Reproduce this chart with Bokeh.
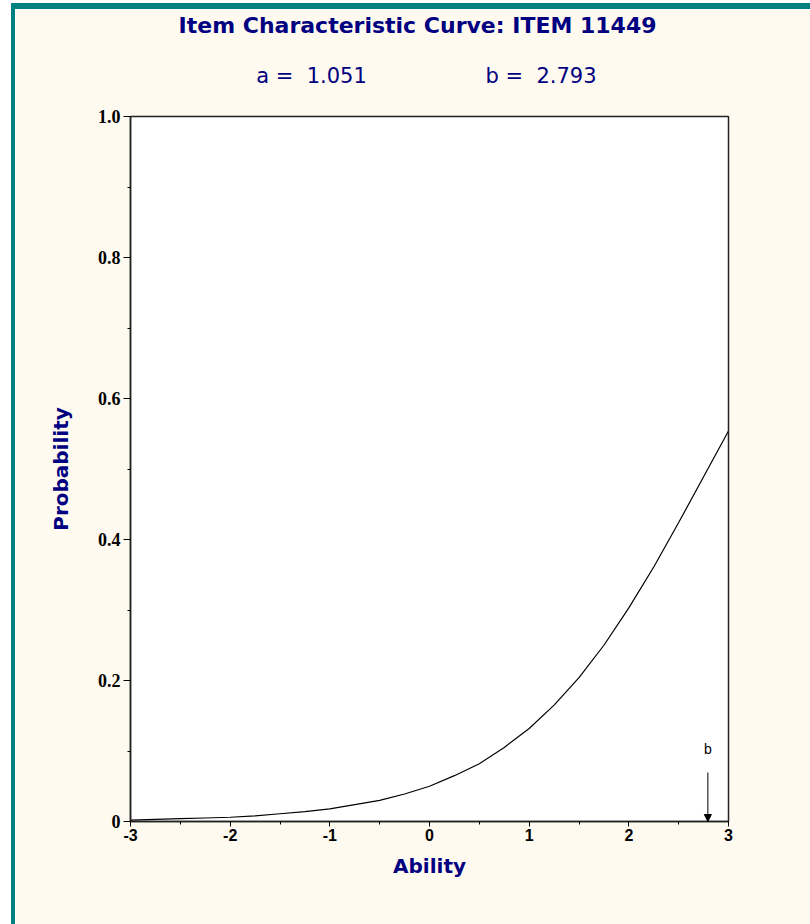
from bokeh.plotting import figure
from bokeh.models import Div, Label, Arrow, NormalHead, FixedTicker, Range1d, LinearAxis
from bokeh.layouts import column, row
from bokeh.embed import file_html
from bokeh.resources import INLINE

# ---- data ----
item_id = "11449"
a_param = 1.051
b_param = 2.793

ability = [-3.0, -2.75, -2.5, -2.25, -2.0, -1.75, -1.5, -1.25, -1.0, -0.75, -0.5, -0.25,
           0.0, 0.25, 0.5, 0.75, 1.0, 1.25, 1.5, 1.75, 2.0, 2.25, 2.5, 2.75, 3.0]
probability = [0.002, 0.003, 0.004, 0.005, 0.006, 0.008, 0.011, 0.014, 0.018, 0.024, 0.030, 0.039,
               0.050, 0.065, 0.082, 0.105, 0.132, 0.165, 0.204, 0.250, 0.303, 0.361, 0.424, 0.489, 0.554]

x_ticks = [-3, -2, -1, 0, 1, 2, 3]
x_tick_labels = {-3: "-3", -2: "-2", -1: "-1", 0: "0", 1: "1", 2: "2", 3: "3"}
x_minor = [-2.5, -1.5, -0.5, 0.5, 1.5, 2.5]
y_ticks = [0, 0.2, 0.4, 0.6, 0.8, 1.0]
y_minor = [0.1, 0.3, 0.5, 0.7, 0.9]
y_tick_labels = {0: "0", 0.2: "0.2", 0.4: "0.4", 0.6: "0.6", 0.8: "0.8", 1.0: "1.0"}

title_text = f"Item Characteristic Curve: ITEM {item_id}"
title_pos = [-0.12]
param_pos = [-1.184, 1.119]
param_text = [f"a = \u00a0{a_param:.3f}", f"b = \u00a0{b_param:.3f}"]

NAVY = "#000080"
CREAM = "#fffaf0"
TEAL = "#008080"

p = figure(width=795, height=915, x_range=Range1d(-3, 3), y_range=Range1d(0, 1),
           output_backend="svg", toolbar_location=None, title=None,
           min_border_left=115, min_border_right=82, min_border_top=107, min_border_bottom=103)
p.border_fill_color = CREAM
p.background_fill_color = "white"
p.outline_line_color = "#222222"
p.outline_line_width = 1.5
p.grid.visible = False

p.line(ability, probability, line_color="black", line_width=1.2)

# axes
xa = p.xaxis[0]
xa.ticker = FixedTicker(ticks=x_ticks, minor_ticks=x_minor)
xa.major_label_overrides = x_tick_labels
xa.axis_label = "Ability"
xa.axis_label_text_font = "DejaVu Sans"
xa.axis_label_text_font_style = "bold"
xa.axis_label_text_font_size = "20px"
xa.axis_label_text_color = NAVY
xa.axis_label_standoff = 10
xa.major_label_text_font = "Liberation Sans"
xa.major_label_text_font_style = "bold"
xa.major_label_text_font_size = "16px"
xa.major_label_text_color = "black"
xa.major_label_standoff = 2
xa.major_tick_in = 0
xa.major_tick_out = 5
xa.minor_tick_in = 0
xa.minor_tick_out = 3
xa.axis_line_color = "#222222"
xa.axis_line_width = 1.5

ya = p.yaxis[0]
ya.ticker = FixedTicker(ticks=y_ticks, minor_ticks=y_minor)
ya.major_label_overrides = y_tick_labels
ya.axis_label = "Probability"
ya.axis_label_text_font = "DejaVu Sans"
ya.axis_label_text_font_style = "bold"
ya.axis_label_text_font_size = "20px"
ya.axis_label_text_color = NAVY
ya.axis_label_standoff = 22
ya.major_label_text_font = "Liberation Serif"
ya.major_label_text_font_style = "bold"
ya.major_label_text_font_size = "18px"
ya.major_label_text_color = "black"
ya.major_label_standoff = 3
ya.major_tick_in = 0
ya.major_tick_out = 7
ya.minor_tick_in = 0
ya.minor_tick_out = 3
ya.axis_line_color = "#222222"
ya.axis_line_width = 1.5


def text_axis(ticks, texts, standoff, size, style):
    ax = LinearAxis(ticker=FixedTicker(ticks=ticks, minor_ticks=[]),
                    major_label_overrides=dict(zip(ticks, texts)))
    ax.axis_line_color = None
    ax.major_tick_line_color = None
    ax.minor_tick_line_color = None
    ax.major_tick_out = 0
    ax.major_tick_in = 0
    ax.major_label_standoff = standoff
    ax.major_label_text_font = "DejaVu Sans"
    ax.major_label_text_font_size = size
    ax.major_label_text_font_style = style
    ax.major_label_text_color = NAVY
    return ax


# parameter line (a, b) just above the frame, chart title above it
p.add_layout(text_axis(param_pos, param_text, 29, "21px", "normal"), "above")
p.add_layout(text_axis(title_pos, [title_text], 23, "22px", "bold"), "above")

# b marker
p.add_layout(Arrow(x_start=b_param, y_start=0.0695, x_end=b_param, y_end=0.0,
                   line_color="black", line_width=1,
                   end=NormalHead(size=7, fill_color="black", line_color="black")))
p.add_layout(Label(x=b_param, y=0.1035, text="b", text_font="Liberation Sans",
                   text_font_size="14px", text_color="black",
                   text_align="center", text_baseline="middle"))

top_white = Div(width=810, height=3, margin=0, styles={"background-color": "white"})
left_white = Div(width=11, height=921, margin=0, styles={"background-color": "white"})
top_teal = Div(width=799, height=6, margin=0, styles={"background-color": TEAL})
left_teal = Div(width=4, height=915, margin=0, styles={"background-color": TEAL})
layout = column(top_white, row(left_white, column(top_teal, row(left_teal, p))))

open("out.html", "w").write(file_html(layout, INLINE))
